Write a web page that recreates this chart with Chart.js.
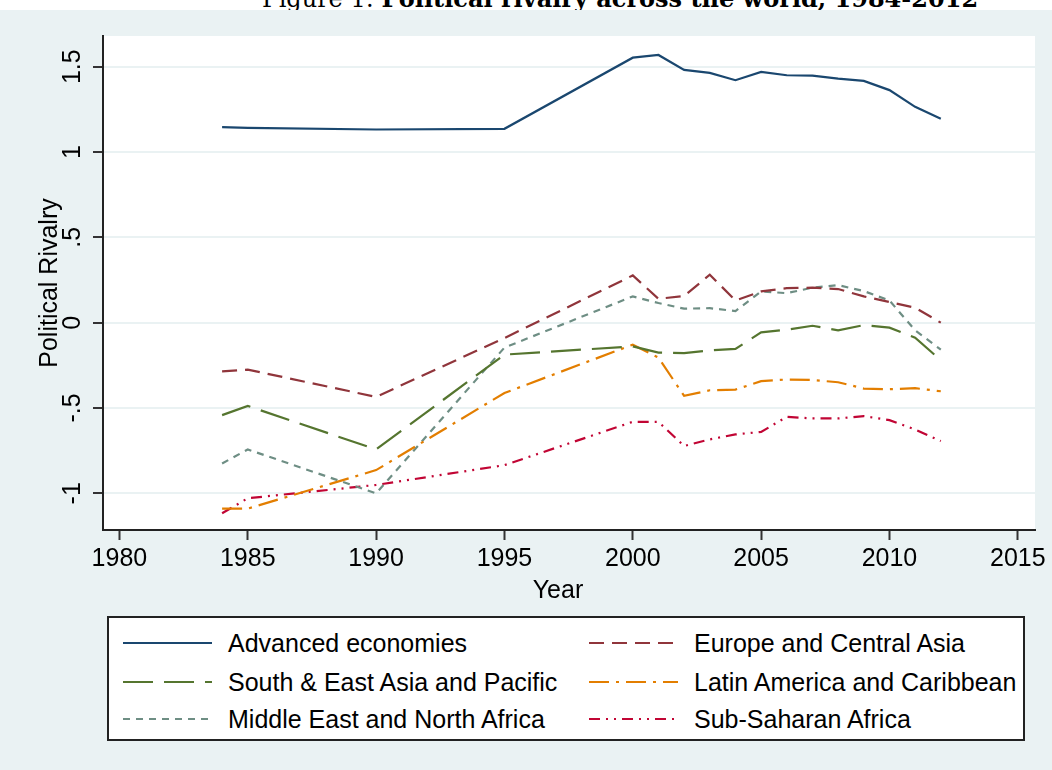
<!DOCTYPE html>
<html>
<head>
<meta charset="utf-8">
<script src="https://cdn.jsdelivr.net/npm/chart.js@4.4.1/dist/chart.umd.min.js"></script>
<style>
  html, body { margin: 0; padding: 0; background: #fff; }
  body { width: 1052px; height: 770px; position: relative; overflow: hidden; font-family: "Liberation Sans", Arial, sans-serif; }
  #title { position: absolute; left: 262px; top: -14px; font-family: "DejaVu Serif", serif; font-size: 24px; line-height: 25px; white-space: nowrap; color: #000; }
  #frame { position: absolute; left: 0; top: 10px; width: 1052px; height: 760px; background: #eaf2f3; }
  #chart-wrap { position: absolute; left: 0; top: 0; width: 1052px; height: 600px; }
  #x-title { position: absolute; left: 458px; top: 564px; width: 200px; text-align: center; font-size: 25px; line-height: 30px; color: #000; }
  #legend { position: absolute; left: 107px; top: 606px; width: 918px; height: 125px; background: #fff; border: 2px solid #222; box-sizing: border-box; }
  .item { position: absolute; height: 30px; display: flex; align-items: center; }
  .item svg { display: block; }
  .item span { position: absolute; left: 105px; top: 0; line-height: 30px; font-size: 25px; color: #000; white-space: nowrap; }
</style>
</head>
<body>
<div id="title">Figure 1: <b>Political rivalry across the world, 1984-2012</b></div>
<div id="frame">
  <div id="chart-wrap"><canvas id="rivalry-chart" width="1052" height="600"></canvas></div>
  <div id="x-title">Year</div>
  <div id="legend"></div>
</div>
<script>
// years observed (1984, 1985, 1990, 1995, then yearly 2000-2012)
const years = [1984, 1985, 1990, 1995, 2000, 2001, 2002, 2003, 2004, 2005, 2006, 2007, 2008, 2009, 2010, 2011, 2012];

const advanced   = [1.146, 1.142, 1.132, 1.136, 1.553, 1.569, 1.481, 1.464, 1.421, 1.470, 1.450, 1.448, 1.430, 1.417, 1.363, 1.265, 1.195];
const europe     = [-0.285, -0.275, -0.435, -0.090, 0.277, 0.140, 0.156, 0.281, 0.130, 0.183, 0.202, 0.205, 0.197, 0.154, 0.121, 0.088, 0.000];
const southEast  = [-0.542, -0.488, -0.743, -0.187, -0.139, -0.175, -0.178, -0.162, -0.154, -0.057, -0.041, -0.018, -0.045, -0.014, -0.029, -0.088, -0.220];
const latinAm    = [-1.090, -1.090, -0.864, -0.412, -0.129, -0.205, -0.429, -0.396, -0.392, -0.343, -0.333, -0.336, -0.349, -0.386, -0.390, -0.384, -0.402];
const midEast    = [-0.825, -0.743, -1.000, -0.146, 0.154, 0.115, 0.082, 0.085, 0.068, 0.183, 0.173, 0.205, 0.220, 0.185, 0.130, -0.045, -0.158];
const subSaharan = [-1.117, -1.029, -0.951, -0.835, -0.581, -0.581, -0.723, -0.684, -0.655, -0.640, -0.552, -0.561, -0.561, -0.548, -0.571, -0.626, -0.694];

const seriesNames = ['Advanced economies', 'Europe and Central Asia', 'South & East Asia and Pacific',
                     'Latin America and Caribbean', 'Middle East and North Africa', 'Sub-Saharan Africa'];
const seriesValues = [advanced, europe, southEast, latinAm, midEast, subSaharan];
const seriesColors = ['#1a476f', '#90353b', '#55752f', '#e37e00', '#6e8e84', '#c10534'];
const seriesDashes = [[], [15, 8], [30, 11], [20, 7, 3, 7], [7, 6], [11, 6, 2, 6, 2, 6]];

const xTickValues = [1980, 1985, 1990, 1995, 2000, 2005, 2010, 2015];
const yTickValues = [-1, -0.5, 0, 0.5, 1, 1.5];
const yTickLabels = ['-1', '-.5', '0', '.5', '1', '1.5'];

Chart.defaults.font.family = '"Liberation Sans", Arial, sans-serif';
Chart.defaults.font.size = 25;
Chart.defaults.color = '#000';

// white plot region, grey outer region
const plotBackground = {
    id: 'plotBackground',
    beforeDraw(chart) {
        const { ctx, chartArea } = chart;
        ctx.save();
        ctx.fillStyle = '#fff';
        ctx.fillRect(chartArea.left, chartArea.top, chartArea.right - chartArea.left, chartArea.bottom - chartArea.top);
        ctx.restore();
    }
};

const datasets = seriesNames.map((name, i) => ({
    label: name,
    data: years.map((yr, j) => ({ x: yr, y: seriesValues[i][j] })),
    borderColor: seriesColors[i],
    borderDash: seriesDashes[i],
    borderWidth: 2.2,
    pointRadius: 0,
    tension: 0,
    fill: false
}));

new Chart(document.getElementById('rivalry-chart'), {
    type: 'line',
    data: { datasets: datasets },
    plugins: [plotBackground],
    options: {
        responsive: false,
        animation: false,
        devicePixelRatio: 1,
        layout: { padding: { left: 0, right: 17, top: 26, bottom: 0 } },
        plugins: { legend: { display: false }, tooltip: { enabled: false } },
        scales: {
            x: {
                type: 'linear',
                min: 1979.36,
                max: 2015.67,
                afterBuildTicks: s => { s.ticks = xTickValues.map(v => ({ value: v })); },
                afterFit: s => { s.height = 80; },
                ticks: { padding: 4, maxRotation: 0, callback: v => String(v) },
                grid: { drawOnChartArea: false, tickLength: 10, tickColor: '#333', tickWidth: 2 },
                border: { color: '#222', width: 2 },
                title: { display: false }
            },
            y: {
                type: 'linear',
                min: -1.215,
                max: 1.68,
                afterBuildTicks: s => { s.ticks = yTickValues.map(v => ({ value: v })); },
                afterFit: s => { s.width = 103; },
                ticks: {
                    minRotation: 90,
                    maxRotation: 90,
                    crossAlign: 'center',
                    padding: 3,
                    callback: v => yTickLabels[yTickValues.indexOf(v)]
                },
                grid: { color: '#eaf2f3', lineWidth: 2, tickLength: 10, tickColor: '#333', tickWidth: 2 },
                border: { color: '#222', width: 2 },
                title: { display: true, text: 'Political Rivalry', padding: { top: 35, bottom: 0 } }
            }
        }
    }
});

// legend: two columns, three rows, boxed
const legendEl = document.getElementById('legend');
const rowCenters = [25, 63.5, 100.5];
const colLefts = [14, 480];
seriesNames.forEach((name, i) => {
    const item = document.createElement('div');
    item.className = 'item';
    item.style.left = colLefts[i % 2] + 'px';
    item.style.top = (rowCenters[Math.floor(i / 2)] - 15) + 'px';
    const dash = seriesDashes[i].length ? seriesDashes[i].join(' ') : 'none';
    item.innerHTML = '<svg width="89" height="6"><line x1="0" y1="3" x2="89" y2="3" stroke="' + seriesColors[i] +
        '" stroke-width="2.2" stroke-dasharray="' + dash + '"/></svg>';
    const label = document.createElement('span');
    label.textContent = name;
    item.appendChild(label);
    legendEl.appendChild(item);
});
</script>
</body>
</html>
